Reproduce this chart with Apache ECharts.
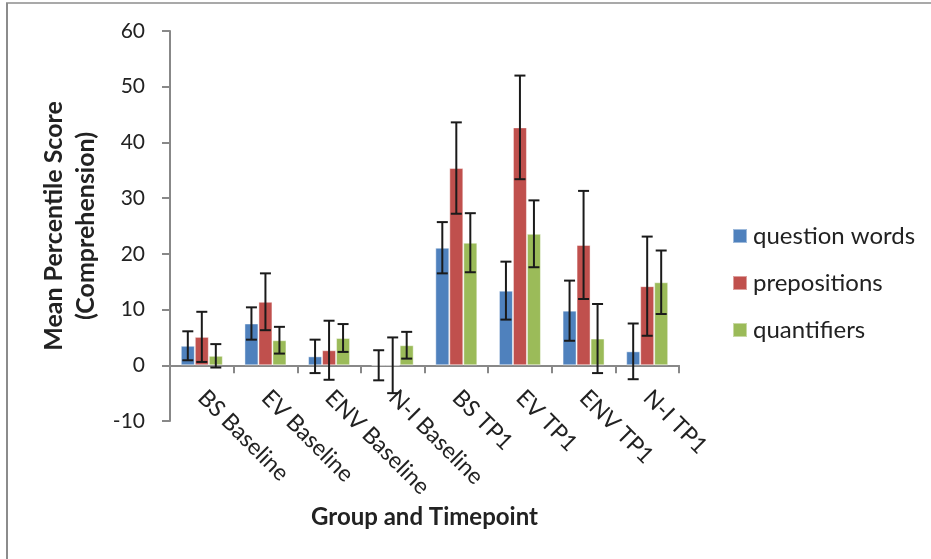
<!DOCTYPE html>
<html>
<head>
<meta charset="utf-8">
<script src="https://cdn.jsdelivr.net/npm/echarts@6/dist/echarts.min.js"></script>
<style>
  html, body { margin: 0; padding: 0; background: #fff; }
  #chart { width: 931px; height: 559px; }
</style>
</head>
<body>
<div id="chart"></div>
<script>
// Groups and timepoints along the x axis
var categories = ['BS Baseline', 'EV Baseline', 'ENV Baseline', 'N-I Baseline',
                  'BS TP1', 'EV TP1', 'ENV TP1', 'N-I TP1'];

// Mean percentile scores (comprehension) per word type
var questionWords = [3.5, 7.5, 1.6, 0, 21.1, 13.4, 9.8, 2.5];
var prepositions  = [5.1, 11.4, 2.7, 0, 35.4, 42.7, 21.6, 14.2];
var quantifiers   = [1.7, 4.5, 4.9, 3.6, 22.0, 23.6, 4.8, 14.9];

// Error bar half-widths (+/-)
var questionWordsErr = [2.6, 2.9, 3.0, 2.7, 4.6, 5.2, 5.4, 5.0];
var prepositionsErr  = [4.5, 5.1, 5.3, 5.0, 8.2, 9.3, 9.7, 8.9];
var quantifiersErr   = [2.1, 2.4, 2.5, 2.4, 5.3, 6.0, 6.2, 5.7];

// Y axis ticks
var yMin = -10, yMax = 60, yStep = 10;

var seriesNames  = ['question words', 'prepositions', 'quantifiers'];
var seriesValues = [questionWords, prepositions, quantifiers];
var seriesErrors = [questionWordsErr, prepositionsErr, quantifiersErr];
var seriesColors = ['#4F81BD', '#C0504D', '#9BBB59'];

var BAR_W = 14;
var FONT = 'Lato, "Open Sans", sans-serif';
var TEXT_COLOR = '#222';

function errorBarSeries(idx) {
  var data = seriesValues[idx].map(function (v, i) {
    return [i, v, seriesErrors[idx][i]];
  });
  return {
    type: 'custom',
    name: seriesNames[idx] + ' error',
    data: data,
    z: 10,
    silent: true,
    clip: false,
    renderItem: function (params, api) {
      var ci = api.value(0), v = api.value(1), e = api.value(2);
      var hi = api.coord([ci, v + e]);
      var lo = api.coord([ci, v - e]);
      var x = hi[0] + (idx - 1) * BAR_W;
      var cap = 5.5;
      var style = { stroke: '#1a1a1a', lineWidth: 2, fill: null };
      return {
        type: 'group',
        children: [
          { type: 'line', shape: { x1: x, y1: hi[1], x2: x, y2: lo[1] }, style: style },
          { type: 'line', shape: { x1: x - cap, y1: hi[1], x2: x + cap, y2: hi[1] }, style: style },
          { type: 'line', shape: { x1: x - cap, y1: lo[1], x2: x + cap, y2: lo[1] }, style: style }
        ]
      };
    }
  };
}

var series = [];
seriesNames.forEach(function (name, i) {
  series.push({
    type: 'bar',
    name: name,
    data: seriesValues[i],
    barWidth: BAR_W,
    barGap: '0%',
    itemStyle: { color: seriesColors[i], borderColor: 'rgba(255,255,255,0.45)', borderWidth: 1 }
  });
});
seriesNames.forEach(function (name, i) { series.push(errorBarSeries(i)); });

var chart = echarts.init(document.getElementById('chart'), null, { renderer: 'canvas' });
chart.setOption({
  animation: false,
  backgroundColor: '#ffffff',
  grid: { left: 170, right: 252, top: 31, bottom: 138, containLabel: false, outerBoundsMode: 'none' },
  legend: {
    data: seriesNames,
    orient: 'vertical',
    left: 732,
    top: 222,
    padding: 0,
    itemWidth: 14,
    itemHeight: 14,
    itemGap: 19,
    icon: 'rect',
    textStyle: { fontFamily: FONT, fontSize: 24, color: TEXT_COLOR, lineHeight: 28, padding: [0, 0, 0, 1] }
  },
  xAxis: {
    type: 'category',
    data: categories,
    name: 'Group and Timepoint',
    nameLocation: 'middle',
    nameGap: 81,
    nameTextStyle: { fontFamily: FONT, fontSize: 24, fontWeight: 'bold', color: TEXT_COLOR },
    axisLine: { onZero: true, lineStyle: { color: '#888', width: 2 } },
    axisTick: { show: true, interval: 0, length: 8, lineStyle: { color: '#888', width: 2 } },
    axisLabel: {
      interval: 0,
      rotate: -45,
      margin: -27,
      fontFamily: FONT,
      fontSize: 23,
      color: TEXT_COLOR
    }
  },
  yAxis: {
    type: 'value',
    min: yMin,
    max: yMax,
    interval: yStep,
    name: 'Mean Percentile Score\n(Comprehension)',
    nameLocation: 'middle',
    nameGap: 62,
    nameTextStyle: { fontFamily: FONT, fontSize: 25, fontWeight: 'bold', color: TEXT_COLOR, lineHeight: 32 },
    axisLine: { show: true, onZero: false, lineStyle: { color: '#888', width: 2 } },
    axisTick: { show: true, length: 8, lineStyle: { color: '#888', width: 2 } },
    splitLine: { show: false },
    axisLabel: { margin: 25, fontFamily: FONT, fontSize: 21, color: TEXT_COLOR }
  },
  graphic: [
    { type: 'line', shape: { x1: 6, y1: 3, x2: 931, y2: 3 }, style: { stroke: '#8c8c8c', lineWidth: 1.5 } },
    { type: 'line', shape: { x1: 7, y1: 3, x2: 7, y2: 559 }, style: { stroke: '#8c8c8c', lineWidth: 2 } }
  ],
  series: series
});
</script>
</body>
</html>
